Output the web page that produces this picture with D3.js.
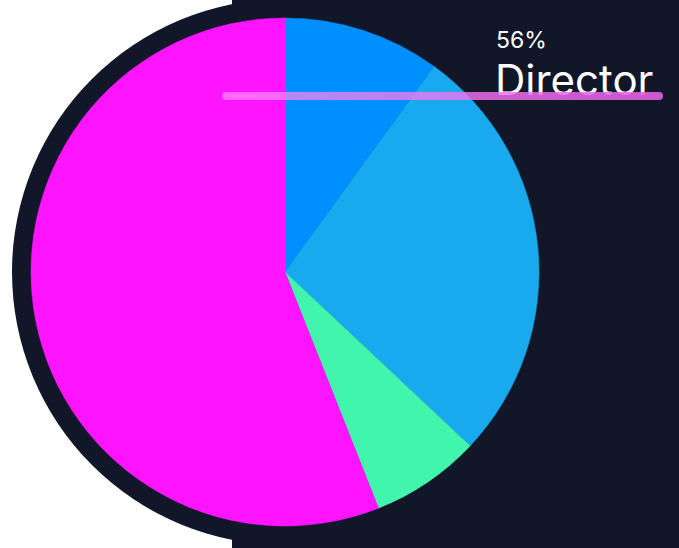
<!DOCTYPE html>
<html><head><meta charset="utf-8">
<script src="https://cdn.jsdelivr.net/npm/d3@7"></script>
<style>html,body{margin:0;padding:0;background:#fff;overflow:hidden}</style>
</head><body>
<svg id="chart" width="679" height="548"></svg>
<script>
const categories = ["Manager", "Engineer", "Analyst", "Director"];
const values = [10, 27, 7, 56];
const colors = ["#008FFF", "#18A9EE", "#42F5AD", "#FF14FF"];
const highlight = "Director";

const svg = d3.select("#chart");
const W = 679, H = 548;
const cx = 285, cy = 272, r = 254;

svg.append("rect").attr("x", 232).attr("y", 0).attr("width", W - 232).attr("height", H).attr("fill", "#111629");
svg.append("circle").attr("cx", cx).attr("cy", cy).attr("r", 273).attr("fill", "#111629");

const data = categories.map((c, i) => ({ name: c, value: values[i], color: colors[i] }));
const pie = d3.pie().value(d => d.value).sort(null);
const arc = d3.arc().innerRadius(0).outerRadius(r);
const total = d3.sum(values);

const g = svg.append("g").attr("transform", `translate(${cx},${cy})`);
g.selectAll("path").data(pie(data)).join("path")
  .attr("d", arc).attr("fill", d => d.data.color)
  .attr("stroke", d => d.data.color).attr("stroke-width", 0.5);

const defs = svg.append("defs");
const grad = defs.append("linearGradient").attr("id", "lg")
  .attr("gradientUnits", "userSpaceOnUse").attr("x1", 222).attr("x2", 663).attr("y1", 0).attr("y2", 0);
grad.append("stop").attr("offset", "0%").attr("stop-color", "rgb(255,140,255)").attr("stop-opacity", 0.7);
grad.append("stop").attr("offset", "100%").attr("stop-color", "rgb(225,95,225)").attr("stop-opacity", 0.9);

const hv = data.find(d => d.name === highlight);
const pct = Math.round(hv.value / total * 100) + "%";
svg.append("text").attr("x", 496).attr("y", 48).attr("fill", "#fff")
  .attr("font-family", "Inter, Roboto, sans-serif").attr("font-size", 23).text(pct);
svg.append("text").attr("x", 495).attr("y", 95).attr("fill", "#fff")
  .attr("font-family", "Inter, Roboto, sans-serif").attr("font-size", 42).text(highlight);

svg.append("line").attr("x1", 226).attr("x2", 659).attr("y1", 96).attr("y2", 96)
  .attr("stroke", "url(#lg)").attr("stroke-width", 8).attr("stroke-linecap", "round");
</script>
</body></html>
